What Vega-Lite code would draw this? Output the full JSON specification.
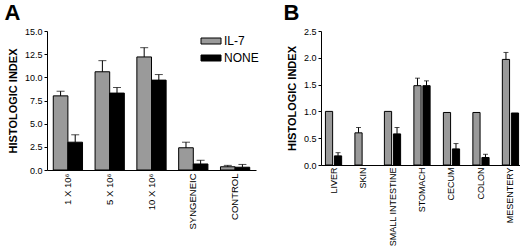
{
  "$schema": "https://vega.github.io/schema/vega-lite/v6.json",
  "padding": {"left": 4, "top": 2, "right": 0, "bottom": 0},
  "spacing": 24,
  "datasets": {
    "a": [
      {"group": "1 X 10⁶", "treatment": "IL-7", "value": 8.0, "upper": 8.5},
      {"group": "1 X 10⁶", "treatment": "NONE", "value": 3.0, "upper": 3.8},
      {"group": "5 X 10⁶", "treatment": "IL-7", "value": 10.6, "upper": 11.8},
      {"group": "5 X 10⁶", "treatment": "NONE", "value": 8.3, "upper": 8.9},
      {"group": "10 X 10⁶", "treatment": "IL-7", "value": 12.2, "upper": 13.2},
      {"group": "10 X 10⁶", "treatment": "NONE", "value": 9.7, "upper": 10.3},
      {"group": "SYNGENEIC", "treatment": "IL-7", "value": 2.4, "upper": 3.0},
      {"group": "SYNGENEIC", "treatment": "NONE", "value": 0.65, "upper": 1.05},
      {"group": "CONTROL", "treatment": "IL-7", "value": 0.35, "upper": 0.5},
      {"group": "CONTROL", "treatment": "NONE", "value": 0.3, "upper": 0.6}
    ],
    "b": [
      {"group": "LIVER", "treatment": "IL-7", "value": 1.0, "upper": null},
      {"group": "LIVER", "treatment": "NONE", "value": 0.17, "upper": 0.23},
      {"group": "SKIN", "treatment": "IL-7", "value": 0.6, "upper": 0.7},
      {"group": "SMALL INTESTINE", "treatment": "IL-7", "value": 1.0, "upper": null},
      {"group": "SMALL INTESTINE", "treatment": "NONE", "value": 0.58, "upper": 0.7},
      {"group": "STOMACH", "treatment": "IL-7", "value": 1.48, "upper": 1.62},
      {"group": "STOMACH", "treatment": "NONE", "value": 1.48, "upper": 1.57},
      {"group": "CECUM", "treatment": "IL-7", "value": 0.98, "upper": null},
      {"group": "CECUM", "treatment": "NONE", "value": 0.3, "upper": 0.4},
      {"group": "COLON", "treatment": "IL-7", "value": 0.98, "upper": null},
      {"group": "COLON", "treatment": "NONE", "value": 0.14, "upper": 0.2},
      {"group": "MESENTERY", "treatment": "IL-7", "value": 1.97, "upper": 2.1},
      {"group": "MESENTERY", "treatment": "NONE", "value": 0.97, "upper": null}
    ]
  },
  "config": {
    "font": "Liberation Sans",
    "view": {"stroke": null},
    "axis": {
      "grid": false,
      "domainColor": "#000",
      "tickColor": "#000",
      "labelColor": "#000",
      "titleColor": "#000",
      "labelFont": "Liberation Sans",
      "titleFont": "Liberation Sans",
      "labelFontSize": 9,
      "titleFontSize": 11,
      "titleFontWeight": "bold",
      "labelOverlap": false
    },
    "title": {"fontSize": 22, "fontWeight": "bold", "anchor": "start", "frame": "bounds", "color": "#000", "font": "Liberation Sans", "offset": 2}
  },
  "resolve": {"scale": {"x": "independent", "y": "independent", "xOffset": "independent", "fill": "independent"}},
  "hconcat": [
    {
      "title": {"text": "A", "dx": -3},
      "width": 209,
      "height": 139,
      "data": {"name": "a"},
      "encoding": {
        "x": {"field": "group", "type": "nominal", "sort": null, "title": null,
              "scale": {"paddingInner": 0.3, "paddingOuter": 0.15},
              "axis": {"labelAngle": -90, "ticks": false, "labelPadding": 3, "labelBaseline": "middle", "labelFontSize": 9.5}},
        "xOffset": {"field": "treatment", "type": "nominal", "scale": {"paddingInner": 0, "paddingOuter": 0}},
        "y": {"field": "value", "type": "quantitative", "title": "HISTOLOGIC INDEX",
              "scale": {"domain": [0, 15], "nice": false},
              "axis": {"values": [0, 2.5, 5, 7.5, 10, 12.5, 15], "format": ".1f", "tickSize": 3, "labelPadding": 2, "titlePadding": 6, "labelOverlap": false}}
      },
      "layer": [
        {
          "mark": {"type": "bar", "stroke": "#000", "strokeWidth": 1},
          "encoding": {
            "fill": {"field": "treatment", "type": "nominal",
                     "scale": {"domain": ["IL-7", "NONE"], "range": ["#9a9a9a", "#000000"]},
                     "legend": {"title": null, "orient": "none", "legendX": 158, "legendY": 4,
                                "symbolType": "M-2,-0.6H2V0.6H-2Z", "symbolSize": 100,
                                "symbolStrokeColor": "#000", "symbolStrokeWidth": 1,
                                "labelFontSize": 12, "labelColor": "#000", "rowPadding": 5, "labelOffset": 7}}
          }
        },
        {
          "mark": {"type": "rule", "color": "#000", "strokeWidth": 1},
          "encoding": {
            "y2": {"field": "upper"}
          }
        },
        {
          "mark": {"type": "tick", "color": "#000", "thickness": 1, "size": 8, "orient": "horizontal"},
          "encoding": {
            "y": {"field": "upper", "type": "quantitative", "title": "HISTOLOGIC INDEX",
                  "axis": {"values": [0, 2.5, 5, 7.5, 10, 12.5, 15], "format": ".1f", "tickSize": 3, "labelPadding": 2, "titlePadding": 6, "labelOverlap": false}}
          }
        }
      ]
    },
    {
      "title": {"text": "B", "dx": -3},
      "width": 202,
      "height": 134,
      "data": {"name": "b"},
      "encoding": {
        "x": {"field": "group", "type": "nominal", "sort": null, "title": null,
              "scale": {"paddingInner": 0.45, "paddingOuter": 0.15},
              "axis": {"labelAngle": -90, "ticks": false, "labelPadding": 2, "labelBaseline": "middle", "labelFontSize": 9}},
        "xOffset": {"field": "treatment", "type": "nominal", "scale": {"domain": ["IL-7", "NONE"], "paddingInner": 0.2, "paddingOuter": 0}},
        "y": {"field": "value", "type": "quantitative", "title": "HISTOLOGIC INDEX",
              "scale": {"domain": [0, 2.5], "nice": false},
              "axis": {"values": [0, 0.5, 1, 1.5, 2, 2.5], "format": ".1f", "tickSize": 3, "labelPadding": 2, "titlePadding": 6, "labelOverlap": false}}
      },
      "layer": [
        {
          "mark": {"type": "bar", "stroke": "#000", "strokeWidth": 1},
          "encoding": {
            "fill": {"field": "treatment", "type": "nominal",
                     "scale": {"domain": ["IL-7", "NONE"], "range": ["#9a9a9a", "#000000"]},
                     "legend": null}
          }
        },
        {
          "transform": [{"filter": "datum.upper != null"}],
          "mark": {"type": "rule", "color": "#000", "strokeWidth": 1},
          "encoding": {
            "y2": {"field": "upper"}
          }
        },
        {
          "transform": [{"filter": "datum.upper != null"}],
          "mark": {"type": "tick", "color": "#000", "thickness": 1, "size": 5, "orient": "horizontal"},
          "encoding": {
            "y": {"field": "upper", "type": "quantitative", "title": "HISTOLOGIC INDEX",
                  "axis": {"values": [0, 0.5, 1, 1.5, 2, 2.5], "format": ".1f", "tickSize": 3, "labelPadding": 2, "titlePadding": 6, "labelOverlap": false}}
          }
        }
      ]
    }
  ]
}
